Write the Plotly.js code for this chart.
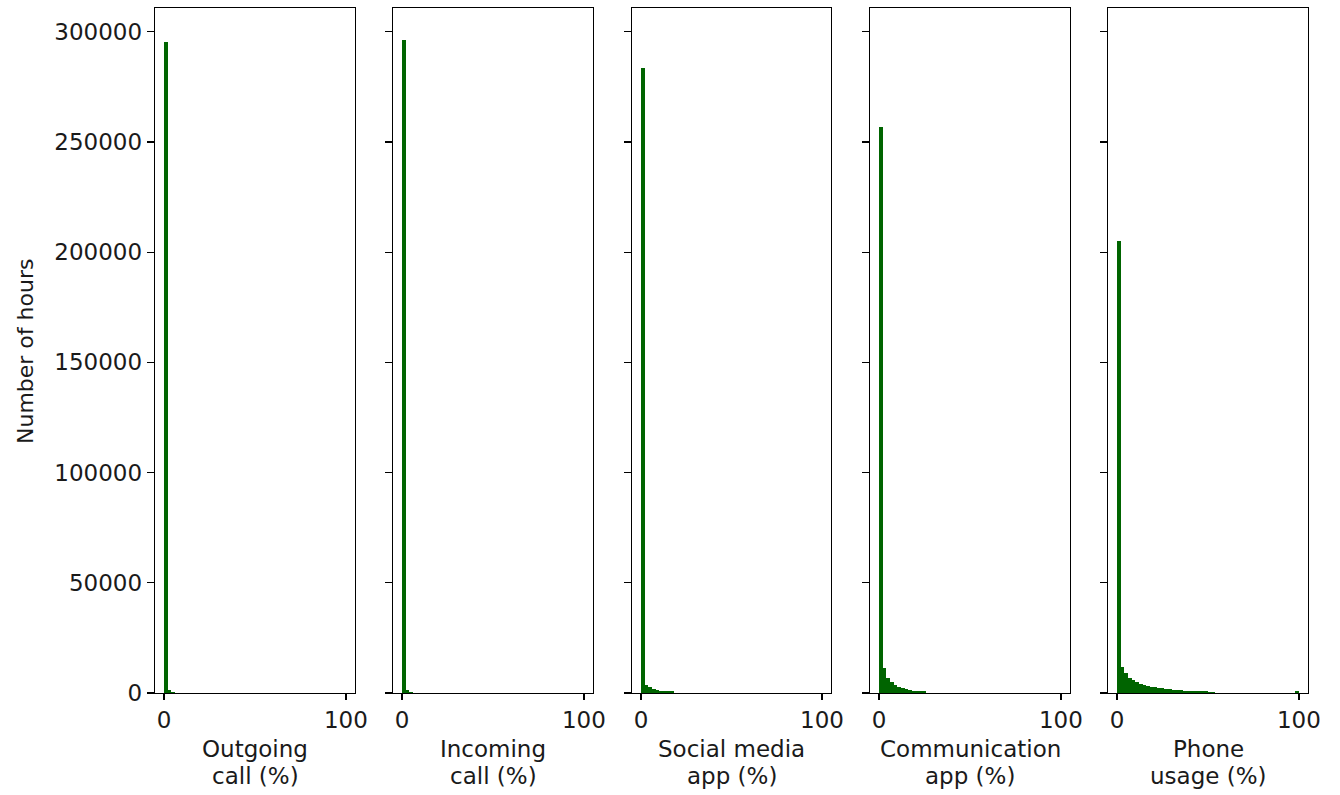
<!DOCTYPE html>
<html>
<head>
<meta charset="utf-8">
<script src="https://cdn.plot.ly/plotly-3.0.1.min.js"></script>
<style>html,body{margin:0;padding:0;background:#fff;}#chart{width:1340px;height:795px;}</style>
</head>
<body>
<div id="chart"></div>
<script>
// Panel titles (two lines each)
const titleLine1 = ["Outgoing", "Incoming", "Social media", "Communication", "Phone"];
const titleLine2 = ["call (%)", "call (%)", "app (%)", "app (%)", "usage (%)"];
const yTitle = "Number of hours";

// Histogram bins (left edges, width 2) and counts
const outgoingBins = [0, 2, 4];
const outgoingCounts = [295500, 1300, 500];

const incomingBins = [0, 2, 4];
const incomingCounts = [296200, 1500, 600];

const socialBins = [0, 2, 4, 6, 8, 10, 12, 14, 16];
const socialCounts = [283800, 3600, 2700, 1900, 1500, 1100, 1000, 900, 800];

const commBins = [0, 2, 4, 6, 8, 10, 12, 14, 16, 18, 20, 22, 24];
const commCounts = [257000, 11500, 7000, 5000, 3700, 2800, 2100, 1600, 1300, 1100, 900, 800, 700];

const phoneBins = [0, 2, 4, 6, 8, 10, 12, 14, 16, 18, 20, 22, 24, 26, 28, 30, 32, 34, 36, 38, 40, 42, 44, 46, 48, 50, 52, 98];
const phoneCounts = [205000, 12000, 9000, 7000, 6000, 4800, 4300, 3600, 3200, 2800, 2600, 2300, 2100, 1800, 1600, 1400, 1300, 1200, 1100, 1000, 900, 850, 800, 750, 700, 650, 600, 800];

const binWidth = 2;
const yTicks = [0, 50000, 100000, 150000, 200000, 250000, 300000];
const xTicks = [0, 100];

const series = [
  [outgoingBins, outgoingCounts],
  [incomingBins, incomingCounts],
  [socialBins, socialCounts],
  [commBins, commCounts],
  [phoneBins, phoneCounts]
];

const W = 1340, H = 795;
const panelPx = [[155, 355], [393, 593], [632, 831], [870, 1070], [1108, 1308]];
const yDom = [1 - 693 / H, 1 - 8 / H];
const fontFam = "DejaVu Sans, sans-serif";
const txtColor = "#1a1a1a";
const fs = 23;

const traces = [];
const annotations = [];
const layout = {
  width: W, height: H,
  margin: {l: 0, r: 0, t: 0, b: 0},
  paper_bgcolor: "#fff", plot_bgcolor: "#fff",
  showlegend: false,
  bargap: 0,
  font: {family: fontFam, size: fs, color: txtColor},
  annotations: annotations
};

series.forEach((s, i) => {
  const n = i === 0 ? "" : String(i + 1);
  traces.push({
    type: "bar",
    x: s[0], y: s[1],
    width: binWidth, offset: 0,
    xaxis: "x" + n, yaxis: "y" + n,
    marker: {color: "#006400", line: {width: 0}},
    hoverinfo: "x+y"
  });
  layout["xaxis" + n] = {
    domain: [panelPx[i][0] / W, panelPx[i][1] / W],
    anchor: "y" + n,
    range: [-5, 105],
    tickmode: "array", tickvals: xTicks,
    ticks: "outside", ticklen: 6, tickwidth: 1.3, tickcolor: "#000",
    showline: true, linecolor: "#000", linewidth: 1.3, mirror: true,
    showgrid: false, zeroline: false,
    tickfont: {family: fontFam, size: fs, color: txtColor}
  };
  layout["yaxis" + n] = {
    domain: yDom,
    anchor: "x" + n,
    range: [0, 310800],
    tickmode: "array", tickvals: yTicks, tickformat: "d",
    ticks: "outside", ticklen: 7, tickwidth: 1.3, tickcolor: "#000",
    showline: true, linecolor: "#000", linewidth: 1.3, mirror: true,
    showgrid: false, zeroline: false,
    showticklabels: i === 0,
    tickfont: {family: fontFam, size: fs, color: txtColor}
  };
  if (i !== 0) layout["yaxis" + n].matches = "y";
  const cx = (panelPx[i][0] + panelPx[i][1]) / 2 / W;
  annotations.push({
    text: titleLine1[i], xref: "paper", yref: "paper",
    x: cx, y: 1 - 749 / H, xanchor: "center", yanchor: "middle",
    showarrow: false, font: {family: fontFam, size: fs, color: txtColor}
  });
  annotations.push({
    text: titleLine2[i], xref: "paper", yref: "paper",
    x: cx, y: 1 - 776 / H, xanchor: "center", yanchor: "middle",
    showarrow: false, font: {family: fontFam, size: fs, color: txtColor}
  });
});

annotations.push({
  text: yTitle, xref: "paper", yref: "paper",
  x: 25 / W, y: 1 - 352 / H, xanchor: "center", yanchor: "middle",
  textangle: -90, showarrow: false,
  font: {family: fontFam, size: fs - 1, color: txtColor}
});

Plotly.newPlot("chart", traces, layout, {displayModeBar: false, staticPlot: true});
</script>
</body>
</html>
